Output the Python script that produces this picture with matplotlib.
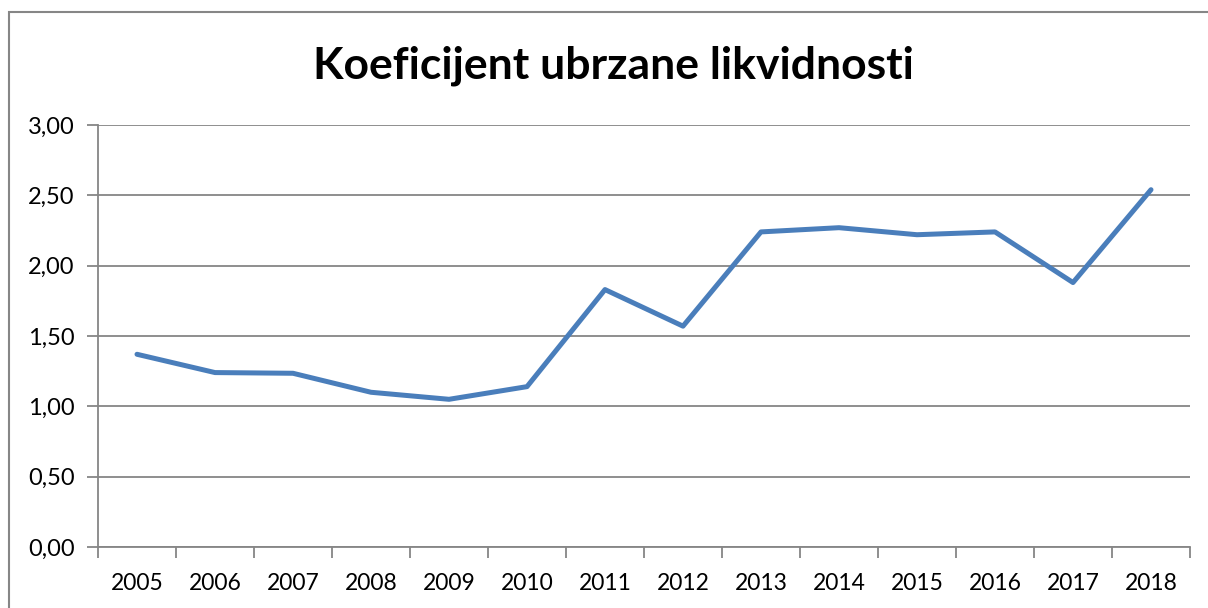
import matplotlib
matplotlib.use("Agg")
import matplotlib.pyplot as plt
from matplotlib.patches import Rectangle
from matplotlib.ticker import FixedLocator, FuncFormatter

years = ["2005", "2006", "2007", "2008", "2009", "2010", "2011",
         "2012", "2013", "2014", "2015", "2016", "2017", "2018"]
values = [1.37, 1.24, 1.235, 1.10, 1.05, 1.14, 1.83,
          1.57, 2.24, 2.27, 2.22, 2.24, 1.88, 2.54]
yticks = [0.0, 0.5, 1.0, 1.5, 2.0, 2.5, 3.0]
title = "Koeficijent ubrzane likvidnosti"

W, H = 1208, 608
fig = plt.figure(figsize=(W / 100, H / 100), dpi=100)
plt.rcParams['font.family'] = ['Lato', 'DejaVu Sans']

grid_c = "#868686"
ax = fig.add_axes([98 / W, (H - 547) / H, (1190 - 98) / W, (547 - 125) / H])
x = list(range(len(years)))
ax.plot(x, values, color="#4A7EBB", linewidth=3.6, solid_capstyle="round",
        solid_joinstyle="round", zorder=3)

ax.set_xlim(-0.5, len(years) - 0.5)
ax.set_ylim(0, 3.0)
ax.set_yticks(yticks)
ax.yaxis.set_major_formatter(FuncFormatter(lambda v, p: f"{v:.2f}".replace(".", ",")))
ax.grid(axis="y", color=grid_c, linewidth=1.3)
ax.set_axisbelow(True)

ax.xaxis.set_major_locator(FixedLocator([i - 0.5 for i in range(len(years) + 1)]))
ax.xaxis.set_major_formatter(FuncFormatter(lambda v, p: ""))
ax.xaxis.set_minor_locator(FixedLocator(x))
ax.set_xticks(x, years, minor=True)
ax.tick_params(axis="x", which="major", length=8, width=1.3, color=grid_c, direction="out")
ax.tick_params(axis="x", which="minor", length=0, pad=19, labelsize=16.5)
ax.tick_params(axis="y", length=8, width=1.3, color=grid_c, pad=9, labelsize=17)

for s in ["top", "right"]:
    ax.spines[s].set_visible(False)
for s in ["left", "bottom"]:
    ax.spines[s].set_color(grid_c)
    ax.spines[s].set_linewidth(1.3)

fig.text(613 / W, (H - 66) / H, title, ha="center", va="center",
         fontsize=32, fontweight="bold")

fig.patches.append(Rectangle((9 / W, -0.05), 1.1, (H - 12) / H + 0.05,
                             transform=fig.transFigure, fill=False,
                             edgecolor=grid_c, linewidth=1.5))

fig.savefig("out.png", dpi=100)
